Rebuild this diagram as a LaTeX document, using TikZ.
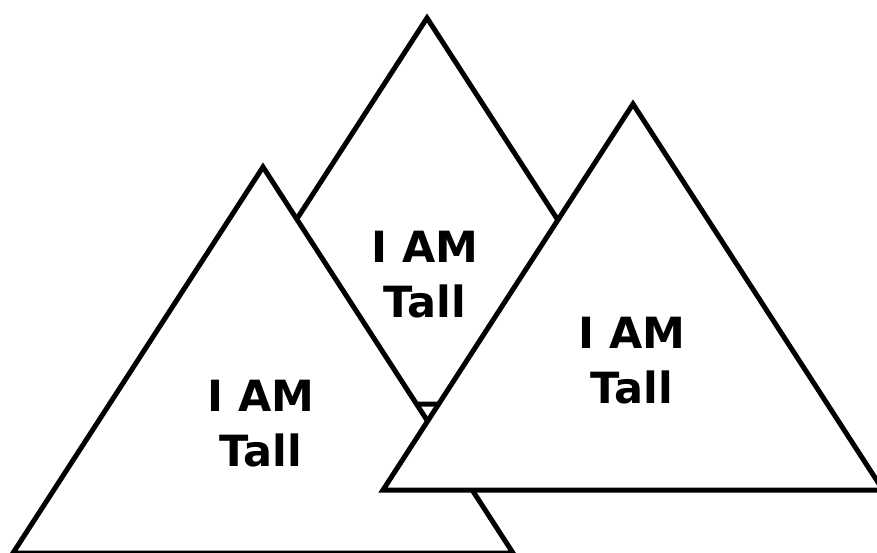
\documentclass[tikz,border=0pt]{standalone}
\usepackage{fontspec}
\setmainfont{DejaVu Sans}
\begin{document}
\begin{tikzpicture}[x=1pt,y=1pt,
  tri/.style={draw=black, fill=white, line width=5pt, line join=miter},
  lbl/.style={font=\bfseries\fontsize{43}{55}\selectfont, align=center, inner sep=0pt}]
\useasboundingbox (0,0) rectangle (877,552);
\clip (0,0) rectangle (877,552);
% back triangle
\coordinate (t1a) at (427,534);
\coordinate (t1l) at (177,148);
\coordinate (t1r) at (677,148);
\draw[tri] (t1a) -- (t1l) -- (t1r) -- cycle;
\node[lbl] (l1) at (425,277) {I AM\\Tall};
% left triangle
\coordinate (t2a) at (263,385);
\coordinate (t2l) at (13,-1);
\coordinate (t2r) at (513,-1);
\draw[tri] (t2a) -- (t2l) -- (t2r) -- cycle;
\node[lbl] (l2) at (261,128) {I AM\\Tall};
% right triangle
\coordinate (t3a) at (633,448);
\coordinate (t3l) at (383,62);
\coordinate (t3r) at (883,62);
\draw[tri] (t3a) -- (t3l) -- (t3r) -- cycle;
\node[lbl] (l3) at (632,191) {I AM\\Tall};
\end{tikzpicture}
\end{document}
